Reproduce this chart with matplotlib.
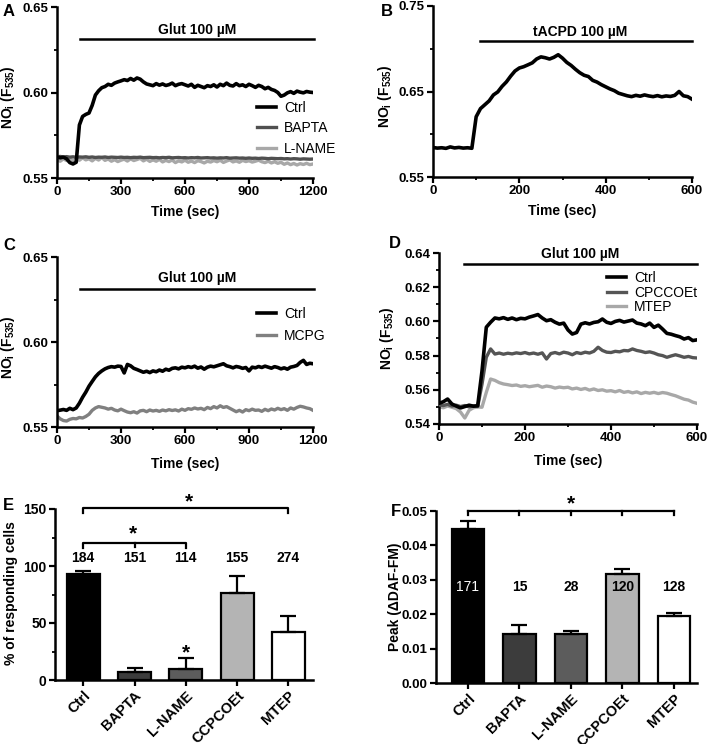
import matplotlib
matplotlib.use('Agg')
import matplotlib.pyplot as plt
from matplotlib.ticker import MultipleLocator, StrMethodFormatter
import numpy as np

plt.rcParams['font.family'] = ['Liberation Sans', 'DejaVu Sans']
plt.rcParams['font.weight'] = 'bold'
plt.rcParams['axes.labelweight'] = 'bold'
plt.rcParams['mathtext.fontset'] = 'custom'
plt.rcParams['mathtext.rm'] = 'Liberation Sans:bold'
plt.rcParams['mathtext.bf'] = 'Liberation Sans:bold'

# ---------------- data ----------------
# panel A / C : 0-1200 s every 15 s
tA = np.arange(0, 1201, 15)
a_ctrl = [0.5625, 0.5618, 0.5622, 0.5612, 0.5590, 0.5582, 0.5592, 0.5810, 0.5860, 0.5872,
          0.5880, 0.5925, 0.5985, 0.6010, 0.6028, 0.6035, 0.6048, 0.6042, 0.6055, 0.6062,
          0.6068, 0.6075, 0.6070, 0.6082, 0.6072, 0.6085, 0.6078, 0.6062, 0.6050, 0.6045,
          0.6040, 0.6052, 0.6043, 0.6050, 0.6041, 0.6046, 0.6055, 0.6040, 0.6048, 0.6052,
          0.6045, 0.6038, 0.6048, 0.6030, 0.6042, 0.6035, 0.6028, 0.6040, 0.6035, 0.6045,
          0.6032, 0.6048, 0.6040, 0.6055, 0.6042, 0.6038, 0.6052, 0.6040, 0.6045, 0.6035,
          0.6048, 0.6040, 0.6030, 0.6042, 0.6035, 0.6022, 0.6030, 0.6018, 0.6012, 0.6000,
          0.5978, 0.5985, 0.5998, 0.6005, 0.5995, 0.6008, 0.6002, 0.5998, 0.6006, 0.6002,
          0.6000]
a_bapta = [0.5624, 0.5626, 0.5623, 0.5625, 0.5622, 0.5624, 0.5621, 0.5623, 0.5622, 0.5624,
           0.5621, 0.5623, 0.5620, 0.5622, 0.5621, 0.5623, 0.5620, 0.5622, 0.5621, 0.5620,
           0.5622, 0.5620, 0.5621, 0.5619, 0.5621, 0.5620, 0.5622, 0.5619, 0.5620, 0.5621,
           0.5619, 0.5620, 0.5618, 0.5620, 0.5619, 0.5621, 0.5618, 0.5619, 0.5620, 0.5618,
           0.5619, 0.5617, 0.5619, 0.5618, 0.5620, 0.5617, 0.5618, 0.5619, 0.5617, 0.5618,
           0.5616, 0.5618, 0.5617, 0.5619, 0.5616, 0.5617, 0.5618, 0.5616, 0.5617, 0.5615,
           0.5617, 0.5615, 0.5616, 0.5614, 0.5616, 0.5615, 0.5613, 0.5615, 0.5614, 0.5613,
           0.5614, 0.5612, 0.5613, 0.5611, 0.5613, 0.5612, 0.5610, 0.5612, 0.5611, 0.5610,
           0.5611]
a_lname = [0.5606, 0.5598, 0.5612, 0.5602, 0.5615, 0.5600, 0.5610, 0.5604, 0.5618, 0.5606,
           0.5612, 0.5600, 0.5615, 0.5605, 0.5620, 0.5603, 0.5611, 0.5598, 0.5607, 0.5596,
           0.5604, 0.5610, 0.5599, 0.5612, 0.5602, 0.5608, 0.5615, 0.5600, 0.5610, 0.5597,
           0.5606, 0.5598, 0.5609, 0.5594, 0.5603, 0.5596, 0.5605, 0.5590, 0.5600, 0.5594,
           0.5604, 0.5592, 0.5599, 0.5590, 0.5601, 0.5596, 0.5588, 0.5598, 0.5593, 0.5602,
           0.5595, 0.5604, 0.5591, 0.5599, 0.5606, 0.5594, 0.5600, 0.5592, 0.5603, 0.5596,
           0.5601, 0.5593, 0.5598, 0.5604, 0.5595, 0.5590, 0.5598, 0.5588, 0.5595, 0.5586,
           0.5592, 0.5580, 0.5588, 0.5578, 0.5585, 0.5576, 0.5584, 0.5579, 0.5586, 0.5578,
           0.5582]
c_ctrl = [0.5596, 0.5599, 0.5603, 0.5598, 0.5610, 0.5602, 0.5612, 0.5640, 0.5675, 0.5705,
          0.5740, 0.5768, 0.5795, 0.5815, 0.5830, 0.5842, 0.5850, 0.5855, 0.5852, 0.5858,
          0.5856, 0.5818, 0.5868, 0.5860, 0.5845, 0.5838, 0.5830, 0.5822, 0.5828, 0.5820,
          0.5830, 0.5825, 0.5835, 0.5828, 0.5840, 0.5834, 0.5845, 0.5848, 0.5842, 0.5852,
          0.5848, 0.5855, 0.5850, 0.5858, 0.5846, 0.5853, 0.5840, 0.5852, 0.5858, 0.5854,
          0.5860, 0.5866, 0.5872, 0.5860, 0.5855, 0.5848, 0.5856, 0.5852, 0.5845, 0.5850,
          0.5830, 0.5852, 0.5848, 0.5856, 0.5850, 0.5858, 0.5852, 0.5846, 0.5855, 0.5850,
          0.5842, 0.5848, 0.5840, 0.5852, 0.5856, 0.5862, 0.5880, 0.5892, 0.5868, 0.5875,
          0.5872]
c_mcpg = [0.5565, 0.5548, 0.5538, 0.5535, 0.5545, 0.5550, 0.5548, 0.5556, 0.5553, 0.5562,
          0.5575, 0.5598, 0.5612, 0.5620, 0.5616, 0.5612, 0.5605, 0.5610, 0.5600, 0.5595,
          0.5605, 0.5596, 0.5588, 0.5584, 0.5590, 0.5582, 0.5595, 0.5598, 0.5590, 0.5600,
          0.5594, 0.5598, 0.5592, 0.5600, 0.5595, 0.5602, 0.5597, 0.5601, 0.5594, 0.5605,
          0.5598, 0.5608, 0.5604, 0.5612, 0.5606, 0.5610, 0.5602, 0.5615, 0.5608, 0.5620,
          0.5612, 0.5625, 0.5615, 0.5620, 0.5610, 0.5600, 0.5590, 0.5598, 0.5588, 0.5602,
          0.5596, 0.5605, 0.5598, 0.5600, 0.5592, 0.5604, 0.5596, 0.5606, 0.5600, 0.5610,
          0.5602, 0.5608, 0.5598, 0.5612, 0.5605, 0.5615, 0.5622, 0.5618, 0.5612, 0.5608,
          0.5598]

# panel B / D : 0-600 s every 10 s
tB = np.arange(0, 601, 10)
b_ctrl = [0.5845, 0.5838, 0.5842, 0.5835, 0.5852, 0.5840, 0.5846, 0.5838, 0.5842, 0.5836,
          0.6205, 0.6300, 0.6345, 0.6390, 0.6460, 0.6495, 0.6560, 0.6612, 0.6680, 0.6740,
          0.6775, 0.6790, 0.6812, 0.6835, 0.6880, 0.6905, 0.6895, 0.6880, 0.6900, 0.6930,
          0.6890, 0.6840, 0.6805, 0.6760, 0.6720, 0.6690, 0.6675, 0.6630, 0.6610, 0.6580,
          0.6555, 0.6530, 0.6510, 0.6480, 0.6465, 0.6450, 0.6440, 0.6455, 0.6445, 0.6460,
          0.6448, 0.6440, 0.6452, 0.6438, 0.6448, 0.6442, 0.6455, 0.6500, 0.6450, 0.6440,
          0.6410]
d_ctrl = [0.5521, 0.5530, 0.5546, 0.5517, 0.5505, 0.5494, 0.5502, 0.5510, 0.5504, 0.5507,
          0.5710, 0.5966, 0.5995, 0.6020, 0.6015, 0.6022, 0.6012, 0.6020, 0.6010, 0.6018,
          0.6015, 0.6025, 0.6032, 0.6040, 0.6020, 0.6004, 0.6010, 0.5995, 0.5984, 0.5990,
          0.5950, 0.5926, 0.5935, 0.5984, 0.5992, 0.5985, 0.5994, 0.5998, 0.6014, 0.5995,
          0.5988, 0.6000, 0.6006, 0.5996, 0.6002, 0.6008, 0.5990, 0.5985, 0.5975, 0.5990,
          0.5965, 0.5978, 0.5955, 0.5930, 0.5925, 0.5917, 0.5910, 0.5897, 0.5905, 0.5888,
          0.5892]
d_cpccoet = [0.5512, 0.5508, 0.5515, 0.5505, 0.5510, 0.5502, 0.5508, 0.5500, 0.5506, 0.5502,
             0.5633, 0.5790, 0.5839, 0.5809, 0.5815, 0.5808, 0.5814, 0.5810, 0.5816, 0.5812,
             0.5818, 0.5810, 0.5815, 0.5808, 0.5816, 0.5780, 0.5812, 0.5818, 0.5810, 0.5820,
             0.5815, 0.5805, 0.5818, 0.5812, 0.5820, 0.5815, 0.5825, 0.5849, 0.5830, 0.5820,
             0.5818, 0.5825, 0.5822, 0.5830, 0.5828, 0.5839, 0.5830, 0.5825, 0.5818, 0.5822,
             0.5815, 0.5805, 0.5800, 0.5790, 0.5798, 0.5805, 0.5798, 0.5790, 0.5795, 0.5788,
             0.5786]
d_mtep = [0.5502, 0.5495, 0.5505, 0.5498, 0.5490, 0.5470, 0.5435, 0.5480, 0.5495, 0.5500,
          0.5498, 0.5585, 0.5663, 0.5655, 0.5642, 0.5634, 0.5630, 0.5625, 0.5628, 0.5620,
          0.5624, 0.5618, 0.5622, 0.5626, 0.5615, 0.5622, 0.5618, 0.5610, 0.5616, 0.5612,
          0.5615, 0.5605, 0.5610, 0.5602, 0.5608, 0.5598, 0.5605, 0.5596, 0.5600, 0.5592,
          0.5595, 0.5588, 0.5596, 0.5585, 0.5590, 0.5582, 0.5588, 0.5578, 0.5585, 0.5580,
          0.5585, 0.5578, 0.5584, 0.5580, 0.5572, 0.5565, 0.5555, 0.5545, 0.5540, 0.5528,
          0.5521]

# panels E / F
groups = ['Ctrl', 'BAPTA', 'L-NAME', 'CCPCOEt', 'MTEP']
e_mean = [93, 6.7, 10, 76, 42.5]
e_err = [2.5, 3.6, 9, 15, 14]
e_n = ['184', '151', '114', '155', '274']
f_mean = [0.0449, 0.0142, 0.0141, 0.0318, 0.0194]
f_err = [0.0021, 0.0026, 0.0010, 0.0014, 0.0009]
f_n = ['171', '15', '28', '120', '128']
bar_colors = ['black', '#3c3c3c', '#5c5c5c', '#b4b4b4', 'white']

W, H = 708, 744
fig = plt.figure(figsize=(W / 100, H / 100), dpi=100)


def add_ax(l, r, t, b):
    return fig.add_axes([l / W, 1 - b / H, (r - l) / W, (b - t) / H])


def style(ax):
    ax.spines['top'].set_visible(False)
    ax.spines['right'].set_visible(False)
    ax.spines['left'].set_linewidth(1.8)
    ax.spines['bottom'].set_linewidth(1.8)
    ax.tick_params(axis='both', which='major', direction='out', length=4, width=1.6,
                   labelsize=9.5, pad=2)
    ax.tick_params(axis='both', which='minor', direction='out', length=2.5, width=1.3)
    for lab in ax.get_xticklabels() + ax.get_yticklabels():
        lab.set_fontweight('bold')


ylab_no = r'NO$_\mathregular{i}$ (F$_\mathregular{535}$)'
leg_kw = dict(frameon=False, borderpad=0, borderaxespad=0, handletextpad=0.55,
              prop={'weight': 'normal', 'size': 10})

# ---- A ----
ax = add_ax(57, 313, 7, 178)
ax.plot(tA, a_lname, color='#a8a8a8', lw=2.4, label='L-NAME', zorder=2)
ax.plot(tA, a_bapta, color='#505050', lw=2.4, label='BAPTA', zorder=3)
ax.plot(tA, a_ctrl, color='black', lw=2.6, label='Ctrl', zorder=4)
ax.set_xlim(0, 1200)
ax.set_ylim(0.55, 0.65)
ax.xaxis.set_major_locator(MultipleLocator(300))
ax.xaxis.set_minor_locator(MultipleLocator(150))
ax.yaxis.set_major_locator(MultipleLocator(0.05))
ax.yaxis.set_minor_locator(MultipleLocator(0.025))
ax.yaxis.set_major_formatter(StrMethodFormatter('{x:.2f}'))
ax.plot([106, 1207], [0.6313, 0.6313], color='black', lw=1.8, clip_on=False)
ax.text(655, 0.6368, 'Glut 100 µM', ha='center', va='center', fontsize=10)
ax.set_xlabel('Time (sec)', fontsize=10)
ax.set_ylabel(ylab_no, fontsize=10)
ax.xaxis.set_label_coords(0.5, -0.16)
ax.yaxis.set_label_coords(-0.156, 0.47)
h, l = ax.get_legend_handles_labels()
ax.legend(h[::-1], l[::-1], loc='upper left', bbox_to_anchor=(0.78, 0.45),
          handlelength=1.4, labelspacing=0.45, **leg_kw)
style(ax)
fig.text(9 / W, 1 - 12 / H, 'A', fontsize=12, ha='center', va='center')

# ---- B ----
ax = add_ax(433, 692, 6, 177)
ax.plot(tB, b_ctrl, color='black', lw=2.6)
ax.set_xlim(0, 600)
ax.set_ylim(0.55, 0.75)
ax.xaxis.set_major_locator(MultipleLocator(200))
ax.xaxis.set_minor_locator(MultipleLocator(100))
ax.set_yticks([0.55, 0.65, 0.75])
ax.set_yticks([0.60, 0.70], minor=True)
ax.yaxis.set_major_formatter(StrMethodFormatter('{x:.2f}'))
ax.plot([110, 600], [0.7094, 0.7094], color='black', lw=1.8, clip_on=False)
ax.text(341, 0.7191, 'tACPD 100 µM', ha='center', va='center', fontsize=10)
ax.set_xlabel('Time (sec)', fontsize=10)
ax.set_ylabel(ylab_no, fontsize=10)
ax.xaxis.set_label_coords(0.5, -0.158)
ax.yaxis.set_label_coords(-0.15, 0.47)
style(ax)
fig.text(387 / W, 1 - 11 / H, 'B', fontsize=12, ha='center', va='center')

# ---- C ----
ax = add_ax(57, 313, 257, 427)
ax.plot(tA, c_mcpg, color='#808080', lw=2.4, label='MCPG', zorder=2)
ax.plot(tA, c_ctrl, color='black', lw=2.6, label='Ctrl', zorder=3)
ax.set_xlim(0, 1200)
ax.set_ylim(0.55, 0.65)
ax.xaxis.set_major_locator(MultipleLocator(300))
ax.xaxis.set_minor_locator(MultipleLocator(150))
ax.yaxis.set_major_locator(MultipleLocator(0.05))
ax.yaxis.set_minor_locator(MultipleLocator(0.025))
ax.yaxis.set_major_formatter(StrMethodFormatter('{x:.2f}'))
ax.plot([110, 1205], [0.6314, 0.6314], color='black', lw=1.8, clip_on=False)
ax.text(655, 0.6378, 'Glut 100 µM', ha='center', va='center', fontsize=10)
ax.set_xlabel('Time (sec)', fontsize=10)
ax.set_ylabel(ylab_no, fontsize=10)
ax.xaxis.set_label_coords(0.5, -0.176)
ax.yaxis.set_label_coords(-0.156, 0.47)
h, l = ax.get_legend_handles_labels()
ax.legend(h[::-1], l[::-1], loc='upper left', bbox_to_anchor=(0.78, 0.706),
          handlelength=1.4, labelspacing=0.6, **leg_kw)
style(ax)
fig.text(9 / W, 1 - 245 / H, 'C', fontsize=12, ha='center', va='center')

# ---- D ----
ax = add_ax(439, 697, 253, 424)
ax.plot(tB, d_mtep, color='#a8a8a8', lw=2.4, label='MTEP', zorder=2)
ax.plot(tB, d_cpccoet, color='#555555', lw=2.4, label='CPCCOEt', zorder=3)
ax.plot(tB, d_ctrl, color='black', lw=2.6, label='Ctrl', zorder=4)
ax.set_xlim(0, 600)
ax.set_ylim(0.54, 0.64)
ax.xaxis.set_major_locator(MultipleLocator(200))
ax.xaxis.set_minor_locator(MultipleLocator(100))
ax.yaxis.set_major_locator(MultipleLocator(0.02))
ax.yaxis.set_minor_locator(MultipleLocator(0.01))
ax.yaxis.set_major_formatter(StrMethodFormatter('{x:.2f}'))
ax.plot([58, 600], [0.6337, 0.6337], color='black', lw=1.8, clip_on=False)
ax.text(329, 0.6392, 'Glut 100 µM', ha='center', va='center', fontsize=10)
ax.set_xlabel('Time (sec)', fontsize=10)
ax.set_ylabel(ylab_no, fontsize=10)
ax.xaxis.set_label_coords(0.5, -0.175)
ax.yaxis.set_label_coords(-0.167, 0.5)
h, l = ax.get_legend_handles_labels()
ax.legend(h[::-1], l[::-1], loc='upper left', bbox_to_anchor=(0.651, 0.895),
          handlelength=1.4, labelspacing=0.05, **leg_kw)
style(ax)
fig.text(395 / W, 1 - 243 / H, 'D', fontsize=12, ha='center', va='center')

# ---- E ----
x = np.arange(len(groups))
ax = add_ax(55, 313, 509, 680)
ax.bar(x, e_mean, width=0.64, color=bar_colors, edgecolor='black', linewidth=1.6, zorder=2)
ax.errorbar(x, e_mean, yerr=[np.zeros(len(x)), e_err], fmt='none', ecolor='black',
            elinewidth=1.6, capsize=6, capthick=1.6, zorder=3)
ax.set_xlim(-0.55, 4.48)
ax.set_ylim(0, 150)
ax.set_xticks(x)
ax.set_xticklabels(groups, rotation=45, ha='right', rotation_mode='anchor')
ax.yaxis.set_major_locator(MultipleLocator(50))
ax.yaxis.set_minor_locator(MultipleLocator(25))
for xi, n in zip(x, e_n):
    ax.text(xi, 107, n, ha='center', va='center', fontsize=10)
ax.plot([0, 0, 2, 2], [116, 120.2, 120.2, 116], color='black', lw=1.6, clip_on=False)
ax.plot([1, 1], [116.5, 120.2], color='black', lw=1.6)
ax.text(0.97, 128, '*', ha='center', va='center', fontsize=15)
ax.plot([0, 0, 4, 4], [146.5, 150.9, 150.9, 146.5], color='black', lw=1.6, clip_on=False)
ax.text(2.07, 156, '*', ha='center', va='center', fontsize=15)
ax.text(2, 24, '*', ha='center', va='center', fontsize=15)
ax.set_ylabel('% of responding cells', fontsize=10)
ax.yaxis.set_label_coords(-0.143, 0.51)
style(ax)
ax.tick_params(axis='x', which='minor', length=0)
ax.tick_params(axis='x', labelsize=10.5)
ax.tick_params(axis='y', labelsize=10)
fig.text(8 / W, 1 - 505 / H, 'E', fontsize=12, ha='center', va='center')

# ---- F ----
ax = add_ax(436, 697, 511, 683)
ax.bar(x, f_mean, width=0.63, color=bar_colors, edgecolor='black', linewidth=1.6, zorder=2)
ax.errorbar(x, f_mean, yerr=[np.zeros(len(x)), f_err], fmt='none', ecolor='black',
            elinewidth=1.6, capsize=6, capthick=1.6, zorder=3)
ax.set_xlim(-0.62, 4.45)
ax.set_ylim(0, 0.05)
ax.set_xticks(x)
ax.set_xticklabels(groups, rotation=45, ha='right', rotation_mode='anchor')
ax.yaxis.set_major_locator(MultipleLocator(0.01))
ax.yaxis.set_major_formatter(StrMethodFormatter('{x:.2f}'))
for xi, n in zip(x, f_n):
    if xi == 0:
        ax.text(xi, 0.0279, n, ha='center', va='center', fontsize=10, color='white',
                fontweight='normal', zorder=5)
    else:
        ax.text(xi, 0.0279, n, ha='center', va='center', fontsize=10, zorder=5)
ax.plot([0, 4], [0.05, 0.05], color='black', lw=1.6, clip_on=False)
for xi in x:
    ax.plot([xi, xi], [0.0487, 0.05], color='black', lw=1.6, clip_on=False)
ax.text(2, 0.0521, '*', ha='center', va='center', fontsize=15)
ax.set_ylabel('Peak (ΔDAF-FM)', fontsize=10)
ax.yaxis.set_label_coords(-0.13, 0.5)
style(ax)
ax.tick_params(axis='x', labelsize=10.5)
fig.text(396 / W, 1 - 511 / H, 'F', fontsize=12, ha='center', va='center')

fig.savefig('out.png', dpi=100)
